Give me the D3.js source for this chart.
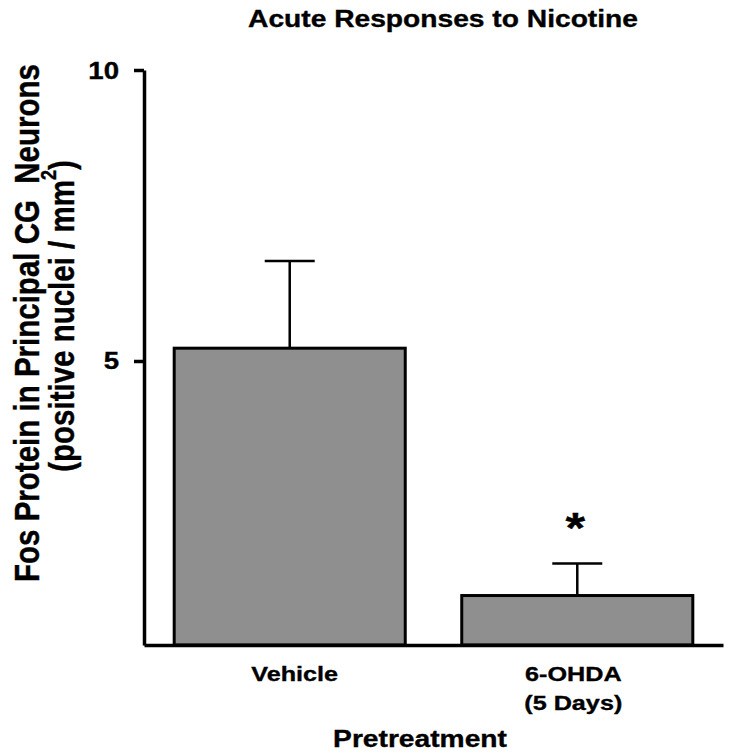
<!DOCTYPE html>
<html>
<head>
<meta charset="utf-8">
<script src="https://cdn.jsdelivr.net/npm/d3@7"></script>
<style>
  html, body { margin: 0; padding: 0; background: #fff; }
  text { font-family: "Liberation Sans", Arial, Helvetica, sans-serif; font-weight: bold; fill: #000; stroke: #000; stroke-width: 0.35px; }
</style>
</head>
<body>
<svg id="chart" width="737" height="756"></svg>
<script>
// ---- data ----
const categories = ["Vehicle", "6-OHDA"];
const categoryLines = [["Vehicle"], ["6-OHDA", "(5 Days)"]];
const means = [5.22, 0.97];
const errUpper = [6.72, 1.52];
const significant = [false, true];
const yTicks = [5, 10];
const titleText = "Acute Responses to Nicotine";
const xTitle = "Pretreatment";
const yTitle1 = "Fos Protein in Principal CG\u00a0\u00a0Neurons";
const yTitle2a = "(positive nuclei / mm";
const yTitle2sup = "2";
const yTitle2b = ")";

// ---- layout ----
const svg = d3.select("#chart");
const plotLeft = 144, plotRight = 723, plotTop = 70, plotBottom = 645;
const sx = 1.2; // horizontal stretch of glyphs
const labelDx = [5, -4];

const y = d3.scaleLinear().domain([0.12, 10]).range([plotBottom, plotTop]);
const x = d3.scaleBand().domain(categories).range([plotLeft, plotRight])
  .paddingInner(0.1965).paddingOuter(0.105);

// bars
svg.selectAll("rect.bar").data(categories).enter().append("rect")
  .attr("class", "bar")
  .attr("x", d => x(d))
  .attr("width", x.bandwidth())
  .attr("y", (d, i) => y(means[i]))
  .attr("height", (d, i) => y(y.domain()[0]) - y(means[i]))
  .attr("fill", "#8f8f8f")
  .attr("stroke", "#000")
  .attr("stroke-width", 3);

// error bars (upper only)
const capW = 50;
categories.forEach((c, i) => {
  const cx = x(c) + x.bandwidth() / 2;
  svg.append("line").attr("x1", cx).attr("x2", cx)
    .attr("y1", y(means[i])).attr("y2", y(errUpper[i]))
    .attr("stroke", "#000").attr("stroke-width", 2.5);
  svg.append("line").attr("x1", cx - capW / 2).attr("x2", cx + capW / 2)
    .attr("y1", y(errUpper[i])).attr("y2", y(errUpper[i]))
    .attr("stroke", "#000").attr("stroke-width", 2.5);
  if (significant[i]) {
    svg.append("g").attr("transform", `translate(${cx - 2},542) scale(${sx},1)`)
      .append("text").attr("text-anchor", "middle").attr("font-size", 42).text("*");
  }
});

// y axis
const yAxis = svg.append("g").attr("transform", `translate(${plotLeft},0)`)
  .call(d3.axisLeft(y).tickValues(yTicks).tickSize(10).tickSizeOuter(0).tickFormat(d3.format("d")));
yAxis.select(".domain").attr("stroke", "#000").attr("stroke-width", 3.5);
yAxis.selectAll(".tick line").attr("stroke", "#000").attr("stroke-width", 3.5);
yAxis.selectAll(".tick text").remove();
yAxis.selectAll(".tick").append("g")
  .attr("transform", `translate(-25,8) scale(${sx},1)`)
  .append("text").attr("text-anchor", "end").attr("font-size", 23)
  .text(d => d3.format("d")(d));

// x axis (line only)
const xAxis = svg.append("g").attr("transform", `translate(0,${plotBottom})`)
  .call(d3.axisBottom(x).tickSize(0).tickSizeOuter(0).tickFormat(""));
xAxis.select(".domain").attr("stroke", "#000").attr("stroke-width", 3.5);

// category labels
categories.forEach((c, i) => {
  const cx = x(c) + x.bandwidth() / 2 + labelDx[i];
  categoryLines[i].forEach((line, j) => {
    svg.append("g").attr("transform", `translate(${cx},${681 + j * 29}) scale(${sx},1)`)
      .append("text").attr("text-anchor", "middle").attr("font-size", 21).text(line);
  });
});

// title
svg.append("g").attr("transform", `translate(443,27) scale(${sx},1)`)
  .append("text").attr("text-anchor", "middle").attr("font-size", 23.5).text(titleText);

// x axis title
svg.append("g").attr("transform", `translate(420,747) scale(${sx},1)`)
  .append("text").attr("text-anchor", "middle").attr("font-size", 23.5).text(xTitle);

// y axis title (two lines, rotated)
svg.append("g").attr("transform", `translate(39,323) scale(${sx},1) rotate(-90)`)
  .append("text").attr("text-anchor", "middle").attr("font-size", 29.5).text(yTitle1);
const t2 = svg.append("g").attr("transform", `translate(74,316) scale(${sx},1) rotate(-90)`)
  .append("text").attr("text-anchor", "middle").attr("font-size", 29.5);
t2.append("tspan").text(yTitle2a);
t2.append("tspan").attr("font-size", 18).attr("dy", -15).text(yTitle2sup);
t2.append("tspan").attr("dy", 15).text(yTitle2b);
</script>
</body>
</html>
